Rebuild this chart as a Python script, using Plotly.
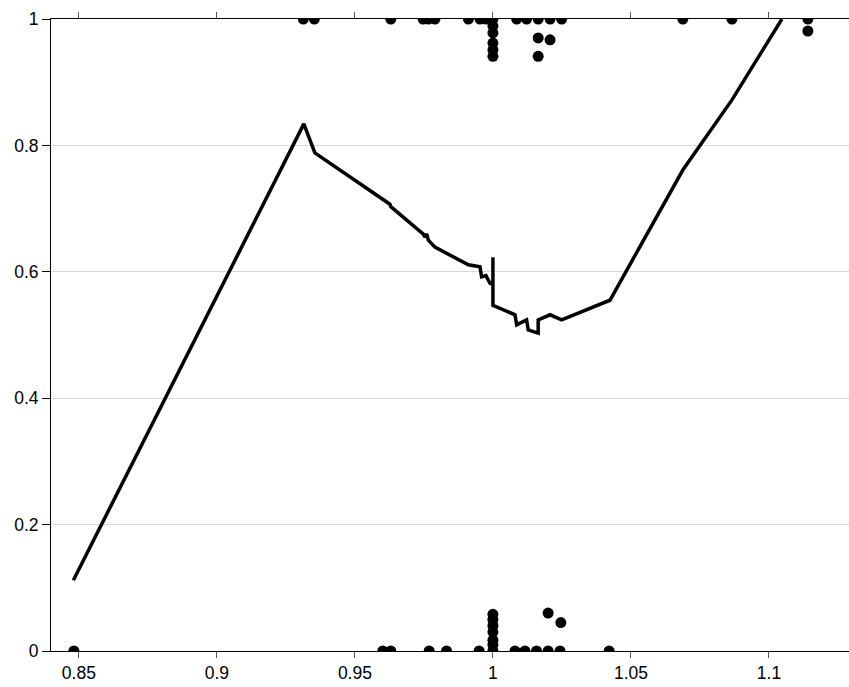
import plotly.graph_objects as go

# fitted curve (black line)
curve_x = [0.848, 0.9315, 0.9355, 0.9627, 0.9630, 0.9747, 0.9754, 0.9760, 0.9766, 0.979,
           0.9911, 0.9953, 0.9959, 0.9975, 0.9989, 1.0, 1.0, 1.0, 1.008, 1.0086,
           1.0122, 1.0128, 1.0164, 1.0164, 1.0207, 1.0217, 1.0249, 1.0424, 1.0688, 1.0866, 1.1047]
curve_y = [0.112, 0.834, 0.788, 0.707, 0.703, 0.660, 0.655, 0.660, 0.650, 0.639,
           0.611, 0.608, 0.592, 0.594, 0.582, 0.580, 0.623, 0.547, 0.532, 0.516,
           0.524, 0.508, 0.503, 0.524, 0.532, 0.530, 0.524, 0.555, 0.761, 0.872, 1.0]

# observations (jittered near 0 / 1)
obs_x = [0.9313, 0.9353, 0.9630, 0.9747, 0.9766, 0.9790, 0.9911, 0.9953, 0.9975, 1.0,
         1.0086, 1.0122, 1.0164, 1.0207, 1.0249, 1.0688, 1.0866, 1.1141,
         1.0, 1.0, 1.0, 1.0, 1.0, 1.0164, 1.0207, 1.0164, 1.1141,
         0.8482, 0.9601, 0.9630, 0.9769, 0.9832, 0.9950, 1.0, 1.008, 1.0116, 1.0158,
         1.0200, 1.0243, 1.0421,
         1.0, 1.0, 1.0, 1.0, 1.0, 1.0, 1.0200, 1.0246]
obs_y = [1.0] * 18 + \
        [0.989, 0.978, 0.962, 0.951, 0.941, 0.970, 0.967, 0.941, 0.981] + \
        [0.0] * 13 + \
        [0.058, 0.050, 0.040, 0.030, 0.017, 0.010, 0.060, 0.045]

ytick_vals = [0, 0.2, 0.4, 0.6, 0.8, 1]
ytick_text = ['0', '0.2', '0.4', '0.6', '0.8', '1']
xtick_vals = [0.85, 0.9, 0.95, 1.0, 1.05, 1.1]
xtick_text = ['0.85', '0.9', '0.95', '1', '1.05', '1.1']

fig = go.Figure()
fig.add_trace(go.Scatter(x=obs_x, y=obs_y, mode='markers',
                         marker=dict(color='black', size=11)))
fig.add_trace(go.Scatter(x=curve_x, y=curve_y, mode='lines',
                         line=dict(color='black', width=3.5)))

fig.update_layout(
    width=849, height=687,
    margin=dict(l=51, r=0, t=19, b=36, autoexpand=False),
    plot_bgcolor='white', paper_bgcolor='white',
    showlegend=False,
    font=dict(family='Liberation Sans, Arial, sans-serif', size=17.5, color='black'),
)
fig.update_xaxes(range=[0.8399, 1.129], tickvals=xtick_vals, ticktext=xtick_text,
                 showgrid=False, zeroline=False, showline=True, linecolor='black',
                 mirror='ticks', ticks='outside', ticklen=6, tickcolor='#555',
                 automargin=False)
fig.update_yaxes(range=[0, 1], tickvals=ytick_vals, ticktext=ytick_text,
                 showgrid=True, gridcolor='#d9d9d9', zeroline=False,
                 showline=True, linecolor='black', ticks='outside', ticklen=8,
                 tickcolor='black', automargin=False)

# drop the default body margin / scrollbars so the figure fills the window
fig.write_html("out.html",
               config={'displayModeBar': False},
               post_script="document.body.style.margin='0';document.body.style.overflow='hidden';")
